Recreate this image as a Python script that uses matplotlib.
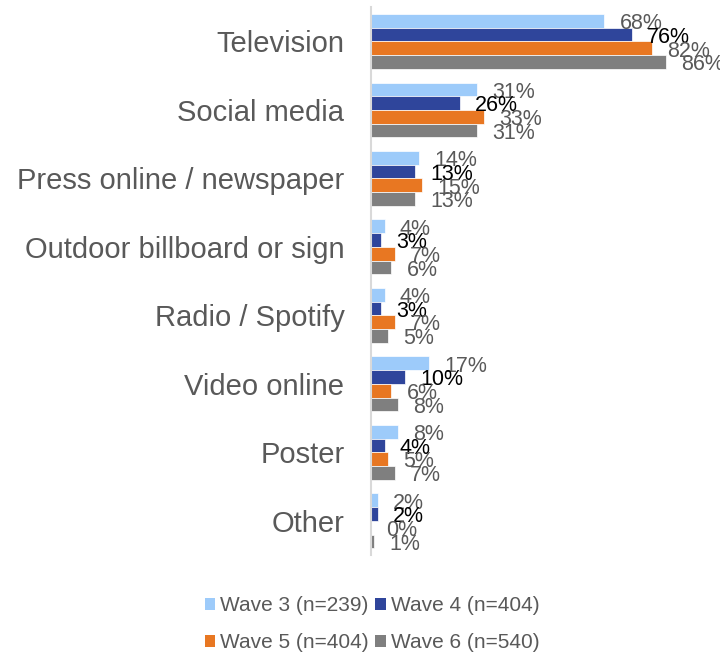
import matplotlib.pyplot as plt
from matplotlib.patches import Patch
import numpy as np

plt.rcParams['font.family'] = ['Liberation Sans', 'DejaVu Sans']

categories = ['Television', 'Social media', 'Press online / newspaper',
              'Outdoor billboard or sign', 'Radio / Spotify', 'Video online',
              'Poster', 'Other']
wave3 = [68, 31, 14, 4, 4, 17, 8, 2]
wave4 = [76, 26, 13, 3, 3, 10, 4, 2]
wave5 = [82, 33, 15, 7, 7, 6, 5, 0]
wave6 = [86, 31, 13, 6, 5, 8, 7, 1]
series_names = ['Wave 3 (n=239)', 'Wave 4 (n=404)', 'Wave 5 (n=404)', 'Wave 6 (n=540)']

colors = ['#9DCBFA', '#2F459B', '#E87722', '#7F7F7F']
label_colors = ['#595959', '#000000', '#595959', '#595959']
grey = '#595959'

fig = plt.figure(figsize=(7.2, 6.53), dpi=100)
ax = fig.add_axes([0.515, 0.15, 0.4768, 0.839])

y = np.arange(len(categories))
h = 0.2
for i, vals in enumerate([wave3, wave4, wave5, wave6]):
    pos = y - 0.3 + i * h
    ax.barh(pos, vals, height=h, color=colors[i], edgecolor='white', linewidth=0.5)
    for p, v in zip(pos, vals):
        ax.annotate(f'{v}%', xy=(v, p), xytext=(11, -2), textcoords='offset points',
                    ha='left', va='center', fontsize=15.5, color=label_colors[i],
                    annotation_clip=False)

ax.set_xlim(0, 100)
ax.set_ylim(len(categories) - 0.5, -0.5)
ax.set_yticks(y)
ax.set_yticklabels(categories, fontsize=21, color=grey)
ax.tick_params(axis='y', length=0, pad=19)
ax.set_xticks([])
for s in ['top', 'right', 'bottom']:
    ax.spines[s].set_visible(False)
ax.spines['left'].set_color('#D9D9D9')
ax.spines['left'].set_linewidth(1.5)

# legend rows: wave 3 / wave 4, then wave 5 / wave 6
order = [0, 2, 1, 3]
handles = [Patch(facecolor=colors[k]) for k in order]
labels = [series_names[k] for k in order]
leg = fig.legend(handles, labels, loc='center', bbox_to_anchor=(0.517, 0.044),
                 ncol=2, frameon=False, fontsize=15, handlelength=0.5, handleheight=0.5,
                 handletextpad=0.25, columnspacing=0.3, labelspacing=0.85)
for t in leg.get_texts():
    t.set_color(grey)

fig.savefig('out.png', dpi=100)
